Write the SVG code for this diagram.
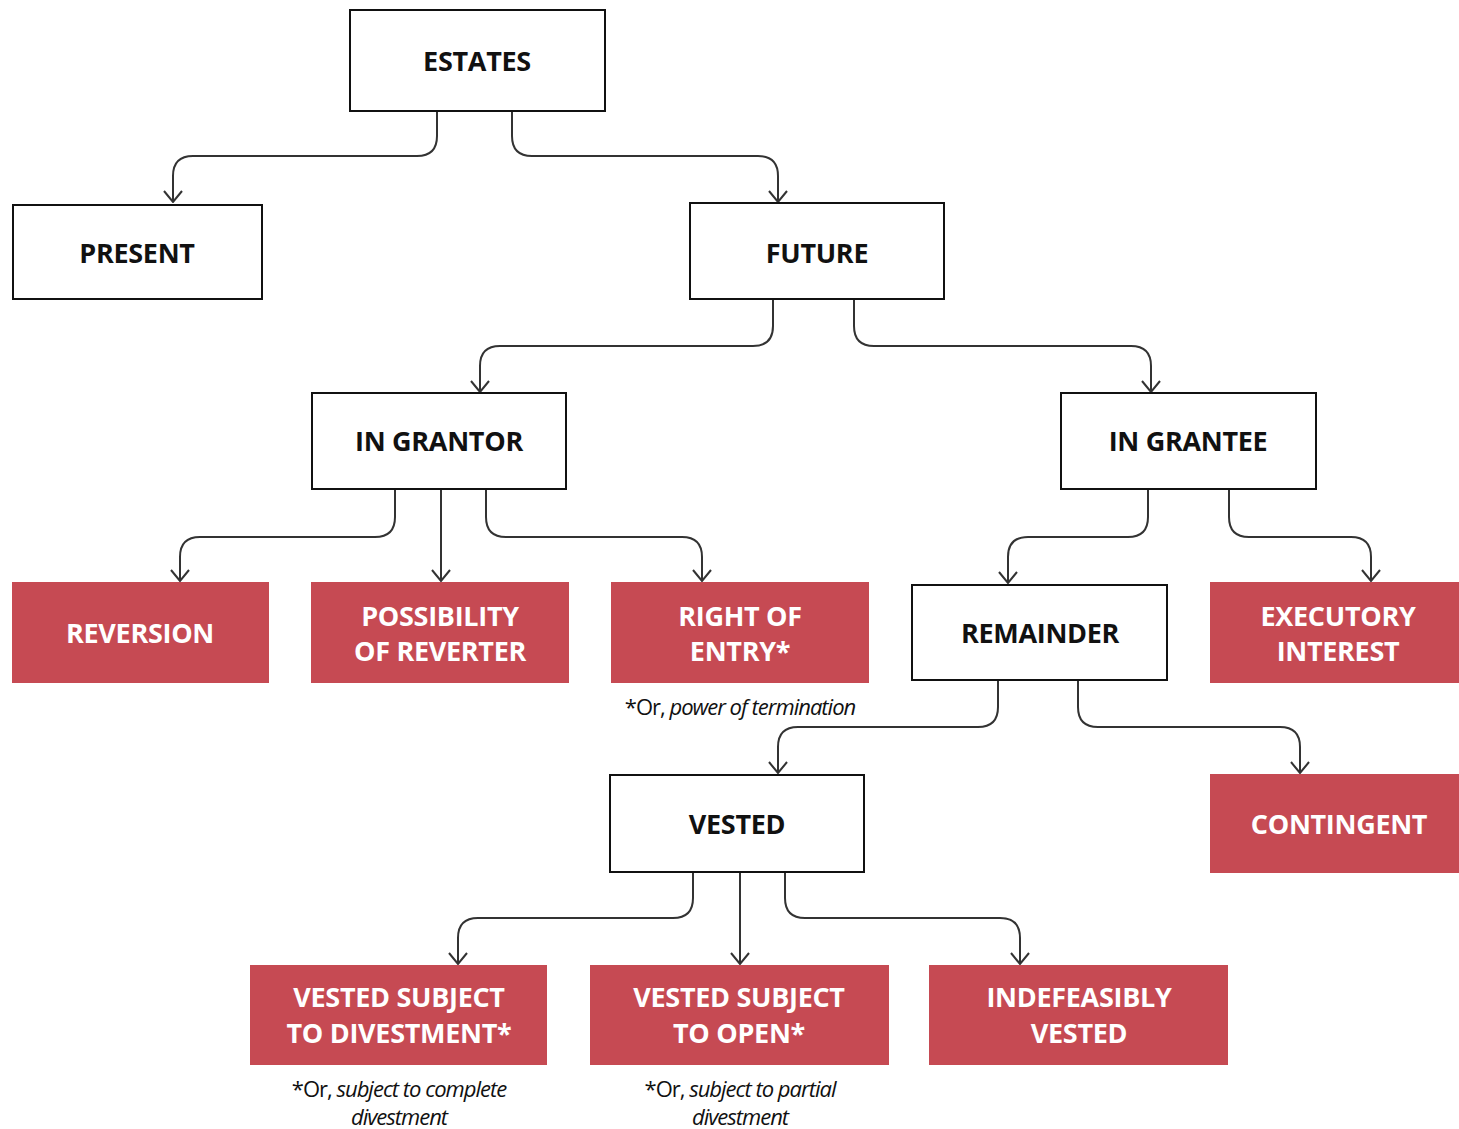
<svg xmlns="http://www.w3.org/2000/svg" width="1459" height="1129" viewBox="0 0 1459 1129">
<style>
.wb{fill:#fff;stroke:#111;stroke-width:2}
.rb{fill:#c64a53}
.t{font-family:"Open Sans","Noto Sans",sans-serif;font-weight:bold;font-size:27px;text-anchor:middle;letter-spacing:-0.3px}
.bt{fill:#111}
.wt{fill:#fff}
.c{fill:none;stroke:#333;stroke-width:2}
.fn{font-family:"Open Sans","Noto Sans",sans-serif;font-size:22px;text-anchor:middle;fill:#111;letter-spacing:-1px}
.i{font-style:italic}
</style>
<defs>
<marker id="ah" viewBox="0 0 13 20" refX="12" refY="10" markerWidth="13" markerHeight="20" markerUnits="userSpaceOnUse" orient="auto">
<path d="M1,1 L12,10 L1,19" fill="none" stroke="#333" stroke-width="2"/>
</marker>
</defs>
<g id="connectors">
<path class="c" d="M437,111 V136 Q437,156 417,156 H193 Q173,156 173,176 V202" marker-end="url(#ah)"/>
<path class="c" d="M512,111 V136 Q512,156 532,156 H758 Q778,156 778,176 V202" marker-end="url(#ah)"/>
<path class="c" d="M773,299 V326 Q773,346 753,346 H500 Q480,346 480,366 V392" marker-end="url(#ah)"/>
<path class="c" d="M854,299 V326 Q854,346 874,346 H1131 Q1151,346 1151,366 V392" marker-end="url(#ah)"/>
<path class="c" d="M395,489 V517 Q395,537 375,537 H200 Q180,537 180,557 V581" marker-end="url(#ah)"/>
<path class="c" d="M441,489 V581" marker-end="url(#ah)"/>
<path class="c" d="M486,489 V517 Q486,537 506,537 H682 Q702,537 702,557 V581" marker-end="url(#ah)"/>
<path class="c" d="M1148,489 V517 Q1148,537 1128,537 H1028 Q1008,537 1008,557 V583" marker-end="url(#ah)"/>
<path class="c" d="M1229,489 V517 Q1229,537 1249,537 H1351 Q1371,537 1371,557 V581" marker-end="url(#ah)"/>
<path class="c" d="M998,680 V707 Q998,727 978,727 H798 Q778,727 778,747 V773" marker-end="url(#ah)"/>
<path class="c" d="M1078,680 V707 Q1078,727 1098,727 H1280 Q1300,727 1300,747 V773" marker-end="url(#ah)"/>
<path class="c" d="M693,872 V898 Q693,918 673,918 H478 Q458,918 458,938 V964" marker-end="url(#ah)"/>
<path class="c" d="M740,872 V964" marker-end="url(#ah)"/>
<path class="c" d="M785,872 V898 Q785,918 805,918 H1000 Q1020,918 1020,938 V964" marker-end="url(#ah)"/>
</g>
<g id="estates"><rect class="wb" x="350" y="10" width="255" height="101"/><text class="t bt" x="477" y="71">ESTATES</text></g>
<g id="present"><rect class="wb" x="13" y="205" width="249" height="94"/><text class="t bt" x="137" y="263">PRESENT</text></g>
<g id="future"><rect class="wb" x="690" y="203" width="254" height="96"/><text class="t bt" x="817" y="263">FUTURE</text></g>
<g id="in-grantor"><rect class="wb" x="312" y="393" width="254" height="96"/><text class="t bt" x="439" y="451">IN GRANTOR</text></g>
<g id="in-grantee"><rect class="wb" x="1061" y="393" width="255" height="96"/><text class="t bt" x="1188" y="451">IN GRANTEE</text></g>
<g id="reversion"><rect class="rb" x="12" y="582" width="257" height="101"/><text class="t wt" x="140" y="643">REVERSION</text></g>
<g id="possibility-of-reverter"><rect class="rb" x="311" y="582" width="258" height="101"/><text class="t wt" x="440" y="626">POSSIBILITY</text><text class="t wt" x="440" y="661">OF REVERTER</text></g>
<g id="right-of-entry"><rect class="rb" x="611" y="582" width="258" height="101"/><text class="t wt" x="740" y="626">RIGHT OF</text><text class="t wt" x="740" y="661">ENTRY*</text></g>
<g id="remainder"><rect class="wb" x="912" y="585" width="255" height="95"/><text class="t bt" x="1040" y="643">REMAINDER</text></g>
<g id="executory-interest"><rect class="rb" x="1210" y="582" width="249" height="101"/><text class="t wt" x="1338" y="626">EXECUTORY</text><text class="t wt" x="1338" y="661">INTEREST</text></g>
<g id="note-entry"><text class="fn" x="740" y="715">*Or, <tspan class="i">power of termination</tspan></text></g>
<g id="vested"><rect class="wb" x="610" y="775" width="254" height="97"/><text class="t bt" x="737" y="834">VESTED</text></g>
<g id="contingent"><rect class="rb" x="1210" y="774" width="249" height="99"/><text class="t wt" x="1339" y="834">CONTINGENT</text></g>
<g id="vested-subject-to-divestment"><rect class="rb" x="250" y="965" width="297" height="100"/><text class="t wt" x="399" y="1007">VESTED SUBJECT</text><text class="t wt" x="399" y="1043">TO DIVESTMENT*</text></g>
<g id="vested-subject-to-open"><rect class="rb" x="590" y="965" width="299" height="100"/><text class="t wt" x="739" y="1007">VESTED SUBJECT</text><text class="t wt" x="739" y="1043">TO OPEN*</text></g>
<g id="indefeasibly-vested"><rect class="rb" x="929" y="965" width="299" height="100"/><text class="t wt" x="1079" y="1007">INDEFEASIBLY</text><text class="t wt" x="1079" y="1043">VESTED</text></g>
<g id="note-divestment"><text class="fn" x="399" y="1097">*Or, <tspan class="i">subject to complete</tspan></text><text class="fn i" x="399" y="1125">divestment</text></g>
<g id="note-open"><text class="fn" x="740" y="1097">*Or, <tspan class="i">subject to partial</tspan></text><text class="fn i" x="740" y="1125">divestment</text></g>
</svg>
